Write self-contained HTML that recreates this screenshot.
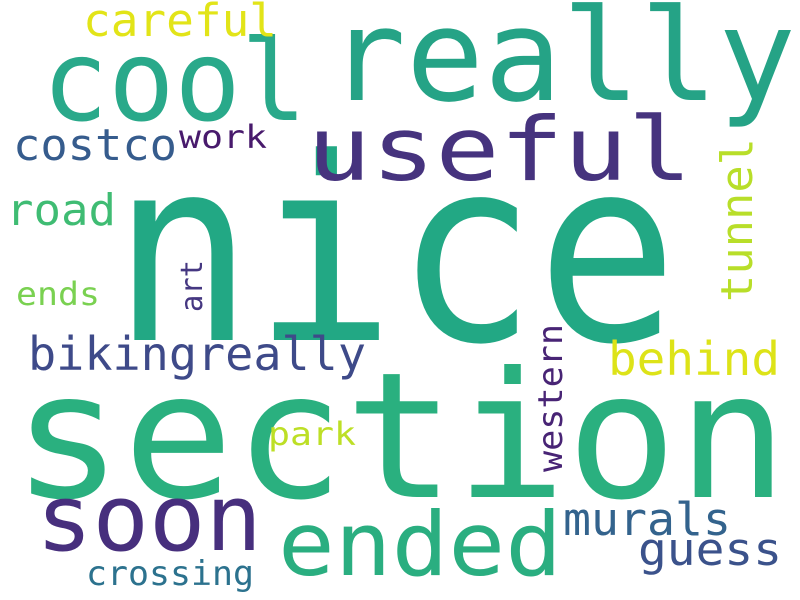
<!DOCTYPE html>
<html><head><meta charset="utf-8"><style>
html,body{margin:0;padding:0;background:#fff;}
svg{display:block;}
text{font-family:"DejaVu Sans Mono","Liberation Mono",monospace;}
</style></head><body>
<svg width="800" height="600" viewBox="0 0 800 600">
<rect width="800" height="600" fill="#fff"/>
<text x="112" y="340" font-size="255" fill="#22a884" textLength="566" lengthAdjust="spacingAndGlyphs">nice</text>
<text x="12" y="497" font-size="175" fill="#2ab07f" textLength="776" lengthAdjust="spacingAndGlyphs">section</text>
<text x="328" y="100" font-size="128" fill="#25a386" textLength="468" lengthAdjust="spacingAndGlyphs">really</text>
<text x="42" y="120" font-size="112" fill="#29a98a" textLength="265" lengthAdjust="spacingAndGlyphs">cool</text>
<text x="307" y="180" font-size="88" fill="#46337e" textLength="385" lengthAdjust="spacingAndGlyphs">useful</text>
<text x="36" y="550" font-size="92" fill="#472f7d" textLength="226" lengthAdjust="spacingAndGlyphs">soon</text>
<text x="278" y="575" font-size="88" fill="#2aae80" textLength="284" lengthAdjust="spacingAndGlyphs">ended</text>
<text x="28" y="370" font-size="46" fill="#3e4a89" textLength="338" lengthAdjust="spacingAndGlyphs">bikingreally</text>
<text x="608" y="375" font-size="46" fill="#dde318" textLength="172" lengthAdjust="spacingAndGlyphs">behind</text>
<text x="83" y="36" font-size="45" fill="#e2e418" textLength="194" lengthAdjust="spacingAndGlyphs">careful</text>
<text x="13" y="160" font-size="44" fill="#365c8d" textLength="164" lengthAdjust="spacingAndGlyphs">costco</text>
<text x="179" y="148" font-size="32" fill="#481a6c" textLength="88" lengthAdjust="spacingAndGlyphs">work</text>
<text x="6" y="225" font-size="44" fill="#3fbc73" textLength="110" lengthAdjust="spacingAndGlyphs">road</text>
<text x="16" y="305" font-size="32" fill="#7ad151" textLength="84" lengthAdjust="spacingAndGlyphs">ends</text>
<text x="268" y="445" font-size="32" fill="#bddf26" textLength="88" lengthAdjust="spacingAndGlyphs">park</text>
<text x="563" y="535" font-size="45" fill="#33638d" textLength="168" lengthAdjust="spacingAndGlyphs">murals</text>
<text x="638" y="565" font-size="45" fill="#3b528b" textLength="144" lengthAdjust="spacingAndGlyphs">guess</text>
<text x="86" y="585" font-size="34" fill="#2c728e" textLength="168" lengthAdjust="spacingAndGlyphs">crossing</text>
<text transform="translate(202,312) rotate(-90)" font-size="30" fill="#453781" textLength="52" lengthAdjust="spacingAndGlyphs">art</text>
<text transform="translate(752,302) rotate(-90)" font-size="44" fill="#b8de29" textLength="164" lengthAdjust="spacingAndGlyphs">tunnel</text>
<text transform="translate(562,472) rotate(-90)" font-size="34" fill="#482475" textLength="148" lengthAdjust="spacingAndGlyphs">western</text>
</svg>
</body></html>
